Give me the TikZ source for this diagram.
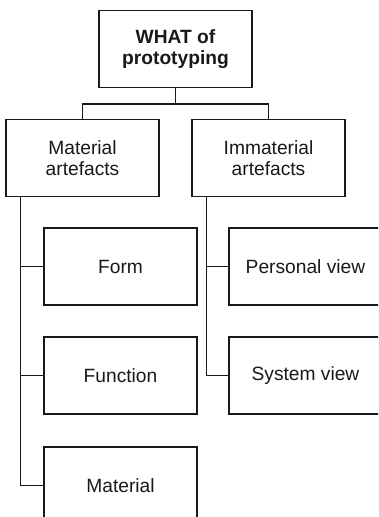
\documentclass[tikz,border=0pt]{standalone}
\usepackage{fontspec}
\setmainfont{Liberation Sans}
\begin{document}
\begin{tikzpicture}[x=1pt,y=-1pt,
  box/.style={draw=black!90,line width=1.5pt,minimum width=153pt,minimum height=77pt,
    inner sep=0pt,align=center,font=\fontsize{19.2}{20.5}\selectfont,text=black!90},
  link/.style={draw=black!90,line width=1.5pt}]
  \clip (0,0) rectangle (378,517);
  \fill[white] (0,0) rectangle (378,517);
  % root
  \node[box,font=\bfseries\fontsize{19.2}{20.5}\selectfont] (root) at (175.5,49) {WHAT of\\prototyping};
  % second level
  \node[box] (mat) at (82.5,158) {Material\\artefacts};
  \node[box] (imm) at (268.5,158) {Immaterial\\artefacts};
  % material children
  \node[box] (form) at (120.5,266.5) {Form};
  \node[box] (func) at (120.5,375.5) {Function};
  \node[box] (matl) at (120.5,485.5) {Material};
  % immaterial children
  \node[box] (pers) at (305.5,266.5) {Personal view};
  \node[box] (sys) at (305.5,375.5) {System view};
  % root to second level
  \coordinate (split) at (175.5,104);
  \draw[link] (root.south) -- (split) -| (mat.north);
  \draw[link] (split) -| (imm.north);
  % trunks
  \coordinate (lt) at ([xshift=15pt]mat.south west);
  \coordinate (rt) at ([xshift=15pt]imm.south west);
  \draw[link] (lt) |- (form.west);
  \draw[link] (lt) |- (func.west);
  \draw[link] (lt) |- (matl.west);
  \draw[link] (rt) |- (pers.west);
  \draw[link] (rt) |- (sys.west);
\end{tikzpicture}
\end{document}
